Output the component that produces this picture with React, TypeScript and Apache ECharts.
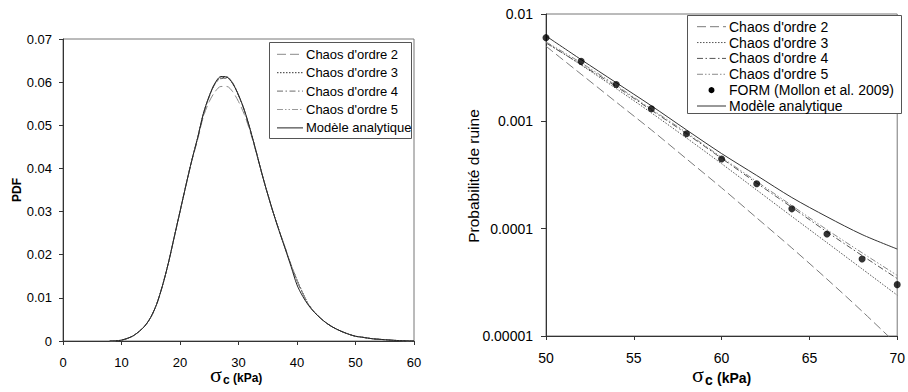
import React, { useEffect, useRef } from "react";
import * as echarts from "echarts";

// ---------- Left chart: PDF of sigma_c ----------
const pdfX = [8, 9, 10, 11, 12, 13, 14, 15, 16, 17, 18, 19, 20, 21, 22, 23, 24, 25, 26, 27, 28, 29, 30, 31, 32, 33, 34, 35, 36, 37, 38, 39, 40, 41, 42, 43, 44, 45, 46, 47, 48, 49, 50, 51, 52, 53, 54, 55, 56, 57, 58, 59, 60];
const pdfChaos2 = [0, 0.00003, 0.0002, 0.0006, 0.0012, 0.0022, 0.0035, 0.0055, 0.0085, 0.0128, 0.018, 0.024, 0.03, 0.036, 0.0416, 0.0466, 0.052, 0.0555, 0.0578, 0.059, 0.059, 0.0578, 0.0555, 0.0525, 0.0485, 0.0438, 0.0388, 0.034, 0.0295, 0.0254, 0.0215, 0.0176, 0.014, 0.011, 0.0084, 0.0067, 0.0053, 0.0042, 0.0033, 0.0026, 0.002, 0.0015, 0.0011, 0.0009, 0.0007, 0.0005, 0.0004, 0.0003, 0.0002, 0.00012, 0.00006, 0.00003, 0.00001];
const pdfChaos3 = [0, 0.00003, 0.0002, 0.0006, 0.0012, 0.0022, 0.0035, 0.0055, 0.0085, 0.0128, 0.018, 0.024, 0.03, 0.036, 0.0418, 0.047, 0.0527, 0.0567, 0.0597, 0.061, 0.0611, 0.0598, 0.057, 0.0535, 0.049, 0.044, 0.0388, 0.034, 0.0295, 0.0254, 0.0215, 0.0176, 0.0142, 0.0111, 0.0084, 0.0067, 0.0053, 0.0042, 0.0033, 0.0026, 0.002, 0.0015, 0.0011, 0.0009, 0.0007, 0.0005, 0.0004, 0.0003, 0.0002, 0.00012, 0.00006, 0.00003, 0.00001];
const pdfChaos4 = [0, 0.00003, 0.0002, 0.0006, 0.0012, 0.0022, 0.0035, 0.0055, 0.0085, 0.0128, 0.018, 0.024, 0.03, 0.036, 0.0418, 0.047, 0.0526, 0.0566, 0.0596, 0.0608, 0.0609, 0.0597, 0.0569, 0.0534, 0.049, 0.044, 0.0388, 0.034, 0.0295, 0.0254, 0.0215, 0.0175, 0.0139, 0.011, 0.0084, 0.0067, 0.0053, 0.0042, 0.0033, 0.0026, 0.002, 0.0015, 0.0011, 0.0009, 0.0007, 0.0005, 0.0004, 0.0003, 0.0002, 0.00012, 0.00006, 0.00003, 0.00001];
const pdfChaos5 = [0, 0.00003, 0.0002, 0.0006, 0.0012, 0.0022, 0.0035, 0.0055, 0.0085, 0.0128, 0.018, 0.024, 0.03, 0.036, 0.0418, 0.047, 0.0527, 0.0568, 0.0598, 0.0612, 0.0613, 0.0599, 0.0571, 0.0535, 0.049, 0.044, 0.0388, 0.034, 0.0295, 0.0254, 0.0215, 0.0176, 0.0141, 0.0111, 0.0084, 0.0067, 0.0053, 0.0042, 0.0033, 0.0026, 0.002, 0.0015, 0.0011, 0.0009, 0.0007, 0.0005, 0.0004, 0.0003, 0.0002, 0.00012, 0.00006, 0.00003, 0.00001];
const pdfAnalytic = [0, 0.00003, 0.0002, 0.0006, 0.0012, 0.0022, 0.0035, 0.0055, 0.0085, 0.0128, 0.018, 0.024, 0.03, 0.036, 0.0418, 0.047, 0.0527, 0.0568, 0.0598, 0.0613, 0.0612, 0.0597, 0.057, 0.0535, 0.049, 0.044, 0.0388, 0.034, 0.0295, 0.0253, 0.0213, 0.0172, 0.013, 0.0103, 0.0082, 0.0066, 0.0053, 0.0042, 0.0033, 0.0026, 0.002, 0.0015, 0.0011, 0.0009, 0.0007, 0.0005, 0.0004, 0.0003, 0.0002, 0.00012, 0.00006, 0.00003, 0.00001];

const leftXLabels = ["0", "10", "20", "30", "40", "50", "60"];
const leftYLabels = ["0", "0.01", "0.02", "0.03", "0.04", "0.05", "0.06", "0.07"];
const leftNames = ["Chaos d'ordre 2", "Chaos d'ordre 3", "Chaos d'ordre 4", "Chaos d'ordre 5", "Modèle analytique"];

// ---------- Right chart: failure probability ----------
const pfX = [50, 52, 54, 56, 58, 60, 62, 64, 66, 68, 70];
const pfChaos2 = [0.00501, 0.00275, 0.00151, 0.000832, 0.000447, 0.00024, 0.000126, 0.0000661, 0.0000339, 0.000017, 0.0000083];
const pfChaos3 = [0.00543, 0.00335, 0.00202, 0.0012, 0.0007, 0.000403, 0.000229, 0.00013, 0.0000741, 0.0000422, 0.000024];
const pfChaos4 = [0.00537, 0.00339, 0.00211, 0.00127, 0.000767, 0.000452, 0.000266, 0.000158, 0.0000933, 0.0000562, 0.0000343];
const pfChaos5 = [0.0055, 0.00351, 0.00216, 0.0013, 0.000785, 0.000462, 0.000275, 0.000164, 0.0000977, 0.0000596, 0.0000367];
const pfForm = [0.00602, 0.00362, 0.0022, 0.00131, 0.000767, 0.000446, 0.000262, 0.000153, 0.0000892, 0.0000521, 0.0000301];
const pfAnalytic = [0.00624, 0.00376, 0.00229, 0.001396, 0.000832, 0.000501, 0.000313, 0.000195, 0.000129, 0.0000881, 0.0000646];

const rightXLabels = ["50", "55", "60", "65", "70"];
const rightYLabels = ["0.00001", "0.0001", "0.001", "0.01"];
const rightNames = ["Chaos d'ordre 2", "Chaos d'ordre 3", "Chaos d'ordre 4", "Chaos d'ordre 5", "FORM (Mollon et al. 2009)", "Modèle analytique"];

const FONT = "'Liberation Sans', Arial, sans-serif";
const SERIF = "'Liberation Serif', 'DejaVu Serif', serif";

const DASH_LONG = [9, 4];
const DOT = [1.5, 1.5];
const DASH_DOT = [6, 2.5, 1.5, 2.5];
const DASH_DOT_DOT = [6, 2, 1.5, 2, 1.5, 2];

const leftStyles = [
  { color: "#8a8a8a", dash: DASH_LONG },
  { color: "#333333", dash: DOT },
  { color: "#6a6a6a", dash: DASH_DOT },
  { color: "#9a9a9a", dash: DASH_DOT_DOT },
  { color: "#222222", dash: null as number[] | null },
];
const rightStyles = [
  { color: "#7a7a7a", dash: DASH_LONG, dot: false },
  { color: "#555555", dash: DOT, dot: false },
  { color: "#555555", dash: DASH_DOT, dot: false },
  { color: "#8a8a8a", dash: DASH_DOT_DOT, dot: false },
  { color: "#000000", dash: null as number[] | null, dot: true },
  { color: "#333333", dash: null as number[] | null, dot: false },
];

function legendGraphics(
  names: string[],
  styles: { color: string; dash: number[] | null; dot?: boolean }[],
  box: { x: number; y: number; w: number; h: number },
  firstY: number,
  step: number,
  lx1: number,
  lx2: number,
  tx: number,
  fontSize: number
) {
  const els: any[] = [
    {
      type: "rect",
      shape: { x: box.x + 0.5, y: box.y + 0.5, width: box.w, height: box.h },
      style: { fill: "#fff", stroke: "#555", lineWidth: 1 },
      z: 50,
    },
  ];
  names.forEach((n, i) => {
    const y = firstY + i * step;
    const s = styles[i];
    if (s.dot) {
      els.push({ type: "circle", shape: { cx: (lx1 + lx2) / 2, cy: y, r: 3 }, style: { fill: s.color }, z: 51 });
    } else {
      els.push({
        type: "line",
        shape: { x1: lx1, y1: y, x2: lx2, y2: y },
        style: { stroke: s.color, lineWidth: 1, lineDash: s.dash || undefined },
        z: 51,
      });
    }
    els.push({
      type: "text",
      x: tx,
      y: y,
      style: { text: n, fontSize, fontFamily: FONT, fill: "#000", align: "left", verticalAlign: "middle" },
      z: 51,
    });
  });
  return els;
}

export default function App() {
  const ref = useRef<HTMLDivElement>(null);
  useEffect(() => {
    if (!ref.current) return;
    const chart = echarts.init(ref.current, undefined, { renderer: "svg" });

    const leftData = [pdfChaos2, pdfChaos3, pdfChaos4, pdfChaos5, pdfAnalytic];
    const rightData = [pfChaos2, pfChaos3, pfChaos4, pfChaos5, pfForm, pfAnalytic];

    const series: any[] = [];
    leftData.forEach((arr, i) => {
      series.push({
        name: leftNames[i],
        type: "line",
        xAxisIndex: 0,
        yAxisIndex: 0,
        data: pdfX.map((x, j) => [x, arr[j]]),
        symbol: "none",
        smooth: 0.3,
        lineStyle: { color: leftStyles[i].color, width: 1, type: leftStyles[i].dash || "solid" },
        z: i === 4 ? 3 : 2,
      });
    });
    rightData.forEach((arr, i) => {
      const st = rightStyles[i];
      if (st.dot) {
        series.push({
          name: rightNames[i],
          type: "scatter",
          xAxisIndex: 1,
          yAxisIndex: 1,
          data: pfX.map((x, j) => [x, arr[j]]),
          symbol: "circle",
          symbolSize: 7,
          itemStyle: { color: st.color },
          z: 5,
        });
      } else {
        series.push({
          name: rightNames[i],
          type: "line",
          xAxisIndex: 1,
          yAxisIndex: 1,
          data: pfX.map((x, j) => [x, arr[j]]),
          symbol: "none",
          smooth: 0.3,
          clip: true,
          lineStyle: { color: st.color, width: 1, type: st.dash || "solid" },
          z: 2,
        });
      }
    });

    const axisLine = { show: true, onZero: false, lineStyle: { color: "#333", width: 1 } };

    const option: any = {
      animation: false,
      backgroundColor: "#fff",
      grid: [
        { left: 63, top: 39, width: 351, height: 302, show: true, borderColor: "#777", borderWidth: 1, backgroundColor: "transparent" },
        { left: 546, top: 14, width: 356, height: 322, show: true, borderColor: "#777", borderWidth: 1, backgroundColor: "transparent" },
      ],
      xAxis: [
        {
          type: "value", gridIndex: 0, min: 0, max: 60, interval: 10,
          axisLine, axisTick: { show: true, inside: false, length: 4, lineStyle: { color: "#333" } },
          splitLine: { show: false },
          axisLabel: { margin: 15, fontSize: 13, fontFamily: FONT, color: "#000", formatter: (_v: number, i: number) => leftXLabels[i] },
        },
        {
          type: "value", gridIndex: 1, min: 50, max: 70, interval: 5,
          axisLine, axisTick: { show: true, inside: false, length: 4, lineStyle: { color: "#333" } },
          splitLine: { show: false },
          axisLabel: { margin: 15, fontSize: 14, fontFamily: FONT, color: "#000", formatter: (_v: number, i: number) => rightXLabels[i] },
        },
      ],
      yAxis: [
        {
          type: "value", gridIndex: 0, min: 0, max: 0.07, interval: 0.01,
          axisLine, axisTick: { show: true, inside: false, length: 4, lineStyle: { color: "#333" } },
          splitLine: { show: false },
          axisLabel: { margin: 11, fontSize: 13, fontFamily: FONT, color: "#000", formatter: (_v: number, i: number) => leftYLabels[i] },
        },
        {
          type: "log", logBase: 10, gridIndex: 1, min: 0.00001, max: 0.01,
          axisLine, axisTick: { show: true, inside: false, length: 5, lineStyle: { color: "#333" } },
          minorTick: { show: false },
          splitLine: { show: false },
          axisLabel: {
            margin: 13, fontSize: 14, fontFamily: FONT, color: "#000",
            formatter: (v: number) => rightYLabels[Math.round(Math.log10(v)) + 5],
          },
        },
      ],
      series,
      graphic: [
        ...legendGraphics(leftNames, leftStyles, { x: 269, y: 42, w: 142, h: 96 }, 54.3, 18.4, 277, 303, 306, 13),
        ...legendGraphics(rightNames, rightStyles, { x: 687, y: 15, w: 214, h: 98 }, 26.7, 15.86, 697, 726, 729, 14),
        // Y axis titles
        { type: "text", x: 17, y: 190, rotation: Math.PI / 2, style: { text: "PDF", fontSize: 12, fontWeight: "bold", fontFamily: FONT, fill: "#000", align: "center", verticalAlign: "middle" } },
        { type: "text", x: 473, y: 176, rotation: Math.PI / 2, style: { text: "Probabilité de ruine", fontSize: 15.5, fontFamily: FONT, fill: "#000", align: "center", verticalAlign: "middle" } },
        // X axis titles (left)
        { type: "text", x: 210, y: 374, style: { text: "σ", fontSize: 22, fontFamily: SERIF, fill: "#000", align: "left", verticalAlign: "middle" } },
        { type: "text", x: 223, y: 380, style: { text: "c", fontSize: 12, fontWeight: "bold", fontFamily: FONT, fill: "#000", align: "left", verticalAlign: "middle" } },
        { type: "text", x: 233, y: 378, style: { text: "(kPa)", fontSize: 12, fontWeight: "bold", fontFamily: FONT, fill: "#000", align: "left", verticalAlign: "middle" } },
        // X axis titles (right)
        { type: "text", x: 692, y: 374, style: { text: "σ", fontSize: 22, fontFamily: SERIF, fill: "#000", align: "left", verticalAlign: "middle" } },
        { type: "text", x: 705, y: 380, style: { text: "c", fontSize: 14, fontWeight: "bold", fontFamily: FONT, fill: "#000", align: "left", verticalAlign: "middle" } },
        { type: "text", x: 717, y: 378, style: { text: "(kPa)", fontSize: 14, fontWeight: "bold", fontFamily: FONT, fill: "#000", align: "left", verticalAlign: "middle" } },
      ],
    };
    chart.setOption(option);
    return () => chart.dispose();
  }, []);

  return <div ref={ref} style={{ position: "absolute", left: 0, top: 0, width: 908, height: 392 }} />;
}
